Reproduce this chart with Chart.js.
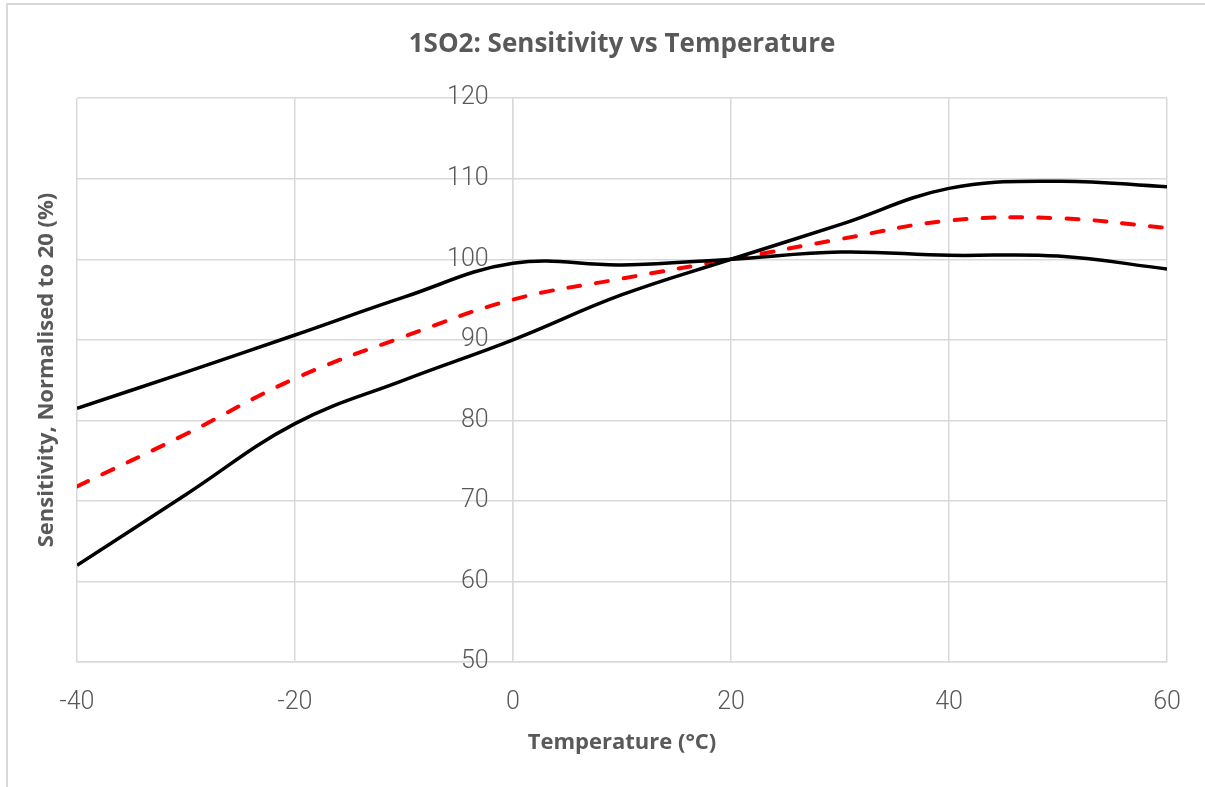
<!DOCTYPE html>
<html>
<head>
<meta charset="utf-8">
<script src="https://cdn.jsdelivr.net/npm/chart.js@4.4.1/dist/chart.umd.min.js"></script>
<style>
  html, body { margin: 0; padding: 0; background: #fff; }
  #wrap { width: 1205px; height: 787px; }
</style>
</head>
<body>
<div id="wrap"><canvas id="chart" width="1205" height="787"></canvas></div>
<script>
// temperature points (°C)
const temps = [-40, -30, -20, -10, 0, 10, 20, 30, 40, 50, 60];
// sensitivity normalised to 20 °C (%)
const upperLow = [81.5, 86.0, 90.6, 95.3, 99.5, 99.3, 100.0, 100.9, 100.5, 100.4, 98.8];
const lowerHigh = [62.0, 70.8, 79.6, 85.0, 90.0, 95.6, 100.0, 104.3, 108.8, 109.7, 109.0];
const average = [71.8, 78.3, 85.2, 90.4, 95.0, 97.6, 100.0, 102.5, 104.8, 105.1, 103.9];

const xTicks = [-40, -20, 0, 20, 40, 60];

const textGrey = '#595959';
const gridGrey = '#d9d9d9';

const toPoints = (vals) => temps.map((t, i) => ({ x: t, y: vals[i] }));

// white background, outer frame and the rotated y title
const decorations = {
  id: 'decorations',
  beforeDraw(chart) {
    const ctx = chart.ctx;
    ctx.save();
    ctx.fillStyle = '#fff';
    ctx.fillRect(0, 0, chart.width, chart.height);
    ctx.strokeStyle = gridGrey;
    ctx.lineWidth = 2;
    ctx.beginPath();
    ctx.moveTo(7, chart.height);
    ctx.lineTo(7, 4);
    ctx.lineTo(chart.width, 4);
    ctx.stroke();
    ctx.restore();
  },
  afterDraw(chart) {
    const ctx = chart.ctx;
    ctx.save();
    ctx.translate(47, 370);
    ctx.rotate(-Math.PI / 2);
    ctx.font = 'bold 22px "Open Sans", sans-serif';
    ctx.fillStyle = textGrey;
    ctx.textAlign = 'center';
    ctx.textBaseline = 'middle';
    ctx.fillText('Sensitivity, Normalised to 20 (%)', 0, 0);
    ctx.restore();
  }
};

new Chart(document.getElementById('chart'), {
  type: 'line',
  data: {
    datasets: [
      {
        label: 'Max',
        data: toPoints(lowerHigh),
        borderColor: '#000',
        borderWidth: 3.5,
        pointRadius: 0,
        tension: 0.4,
        fill: false,
      },
      {
        label: 'Min',
        data: toPoints(upperLow),
        borderColor: '#000',
        borderWidth: 3.5,
        pointRadius: 0,
        tension: 0.4,
        fill: false,
      },
      {
        label: 'Typical',
        data: toPoints(average),
        borderColor: '#ff0000',
        borderWidth: 4,
        borderDash: [12, 16],
        borderCapStyle: 'round',
        pointRadius: 0,
        tension: 0.4,
        fill: false,
      },
    ],
  },
  options: {
    responsive: false,
    animation: false,
    layout: {
      padding: { left: 77, right: 38, top: 0, bottom: 0 },
    },
    plugins: {
      legend: { display: false },
      tooltip: { enabled: false },
      title: {
        display: true,
        text: '1SO2: Sensitivity vs Temperature',
        color: textGrey,
        font: { family: '"Open Sans", sans-serif', size: 26, weight: 'bold' },
        padding: { top: 29, bottom: 38 },
      },
    },
    scales: {
      x: {
        type: 'linear',
        min: -40,
        max: 60,
        afterBuildTicks: (scale) => {
          scale.ticks = xTicks.map((v) => ({ value: v }));
        },
        afterFit: (scale) => {
          scale.height = 125;
          // the outer padding already leaves room for the end labels
          scale.paddingLeft = 0;
          scale.paddingRight = 0;
        },
        ticks: {
          color: textGrey,
          font: { family: 'Roboto, sans-serif', size: 25, weight: 300 },
          padding: 26,
          maxRotation: 0,
        },
        grid: { color: gridGrey, lineWidth: 1.5, drawTicks: false },
        border: { color: gridGrey, width: 1.5 },
        title: {
          display: true,
          text: 'Temperature (°C)',
          color: textGrey,
          font: { family: '"Open Sans", sans-serif', size: 22, weight: 'bold' },
          padding: { top: 0, bottom: 31 },
        },
      },
      y: {
        type: 'linear',
        position: { x: 0 },
        min: 50,
        max: 120,
        ticks: {
          stepSize: 10,
          color: textGrey,
          font: { family: 'Roboto, sans-serif', size: 25, weight: 300 },
          // labels sit right-aligned on the x = 0 line, so pad them with spaces
          callback: (v) => v + '    ',
        },
        grid: { color: gridGrey, lineWidth: 1.5, drawTicks: false },
        border: { color: gridGrey, width: 1.5 },
      },
    },
  },
  plugins: [decorations],
});
</script>
</body>
</html>
